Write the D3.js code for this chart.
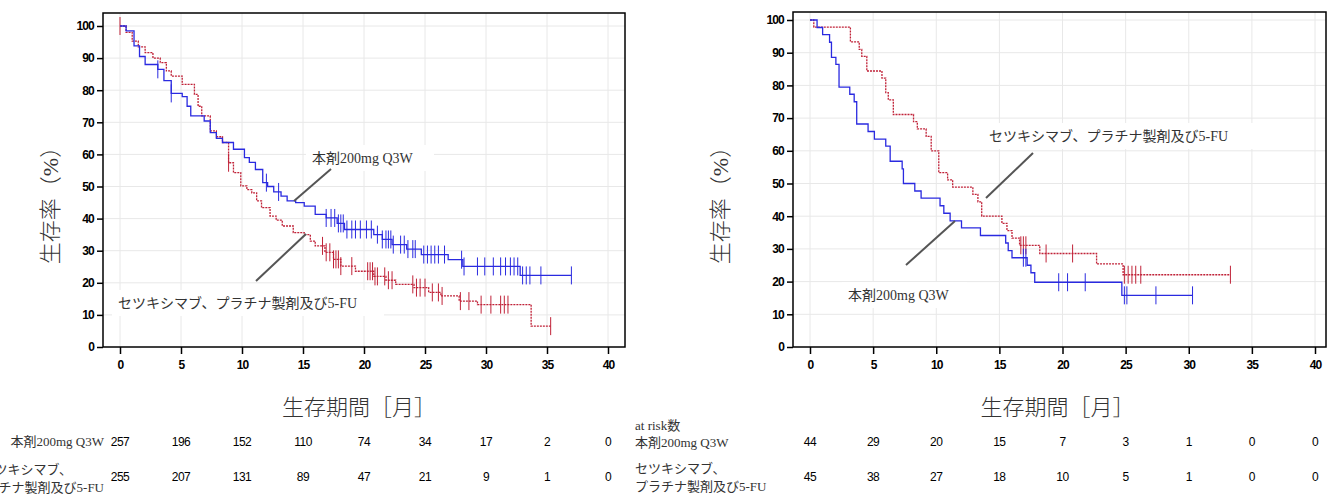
<!DOCTYPE html>
<html><head><meta charset="utf-8">
<script src="https://cdn.jsdelivr.net/npm/d3@7"></script>
<style>
body{margin:0;background:#fff}
.tick text{font-family:"Liberation Sans",Arial,sans-serif;font-size:12px;font-weight:bold;letter-spacing:-0.8px}
.lab{font-family:"Liberation Serif","Noto Sans CJK JP",serif;fill:#333}
.big{font-weight:300}
</style></head><body>
<svg id="c" width="1327" height="496"></svg>
<script>
const xTicks = [0, 5, 10, 15, 20, 25, 30, 35, 40]
const yTicks = [0, 10, 20, 30, 40, 50, 60, 70, 80, 90, 100]

// left panel: [month, survival %]
const leftBlue = [[0,100],[0.5,98.5],[1.15,93.8],[1.6,90.5],[2.06,88],[3.1,86.5],[3.6,83],[4.2,79],[5.1,78],[5.5,75],[5.8,72],[6.9,70.4],[7.4,66.8],[7.9,65],[8.4,63.7],[9.3,61.6],[10.2,59],[10.6,57.5],[11.1,55.3],[11.7,51.2],[12.1,50],[12.6,48.3],[13.2,47],[13.7,45.5],[14.4,45],[15.1,43.9],[16,41.3],[16.9,40.2],[17.8,38.5],[18.4,36.6],[20.8,35],[21.5,33.5],[22.3,31.9],[23.5,30.5],[24.7,28.8],[26.9,27.2],[28.1,25.1],[32.8,22.3]]
const leftBlueEnd = 37
const leftBlueCens = [3.1,4.2,12.0,13.0,16.9,17.3,17.6,17.9,18.1,18.3,18.6,19.0,19.3,19.7,20.2,20.6,21.1,21.5,21.8,22.0,22.2,22.4,23.0,23.3,23.6,24.0,24.2,24.9,25.2,25.5,25.8,26.1,26.6,28.0,28.2,29.3,29.9,30.6,31.2,31.6,32.0,32.3,32.6,33.0,33.3,33.6,34.5,37]
const leftRed = [[0,100],[0.5,98],[1,95.3],[1.5,93.5],[2.06,91.7],[2.7,90],[3.3,88.6],[3.8,86],[4.2,84.4],[5.1,81.8],[6.1,78.7],[6.4,75],[6.7,72],[7.4,67.3],[7.9,65.5],[8.4,63.7],[8.9,57.4],[9.3,54.3],[9.9,50.2],[10.4,49],[10.8,48],[11.2,45.5],[11.6,43.4],[12.3,40.8],[12.8,39.5],[13.3,37.7],[14.2,35.6],[15.1,35],[15.6,33],[16,31.5],[16.8,29.5],[17.5,27.3],[18.1,25.2],[19.3,23.6],[20.8,22],[21.8,20.8],[22.6,19.5],[24.1,18.5],[25.3,17],[26.3,15.9],[27.8,14.3],[29.3,13.2],[33.7,6.5]]
const leftRedEnd = 35.3
const leftRedCens = [0,8.9,16.6,16.9,17.2,17.5,17.7,17.9,18.1,19.0,20.3,20.5,20.7,20.9,21.1,21.7,22.0,22.3,24.0,24.3,24.6,25.0,25.6,26.1,26.4,27.9,28.6,29.6,30.4,31.2,31.5,31.8,35.3]

// right panel
const rightBlue = [[0,100],[0.56,97.7],[1.0,95.5],[1.55,93.2],[1.7,88.6],[2.05,86.4],[2.3,79.5],[3.15,77.3],[3.5,75],[3.7,68.2],[4.6,65.9],[5.1,63.6],[6.0,61.4],[6.35,56.8],[7.3,54.5],[7.4,50],[8.3,47.7],[8.8,45.5],[10.3,43.2],[10.6,40.9],[11.1,38.6],[12.0,36.4],[13.5,34.1],[15.5,31.8],[15.7,29.5],[16.0,27.3],[17.2,25],[17.5,22.7],[17.8,19.8],[24.7,15.8]]
const rightBlueEnd = 30.3
const rightBlueCens = [16.9,17.1,19.7,20.4,21.8,24.9,25.1,27.4,30.3]
const rightRed = [[0,100],[0.3,97.8],[3.2,93.3],[3.9,91],[4.1,88.9],[4.5,84.4],[5.7,82.2],[6.0,77.8],[6.2,75.6],[6.6,71.1],[8.2,68.9],[8.5,66.7],[9.2,64.4],[9.6,60],[10.2,53.3],[10.9,51.1],[11.3,48.9],[12.9,46.7],[13.3,44.4],[13.6,40],[15.2,37.8],[15.6,35.6],[16.0,33.3],[16.6,31.1],[18.2,28.6],[22.7,25.4],[24.8,22.1]]
const rightRedEnd = 33.3
const rightRedCens = [16.7,16.9,17.1,18.7,20.8,24.9,25.2,25.5,25.8,26.2,33.3]

const leftRiskBlue = [257,196,152,110,74,34,17,2,0]
const leftRiskRed = [255,207,131,89,47,21,9,1,0]
const rightRiskBlue = [44,29,20,15,7,3,1,0,0]
const rightRiskRed = [45,38,27,18,10,5,1,0,0]

const BLUE = "#2a2ae0", RED = "#c02238"
const svg = d3.select("#c")

function survAt(steps, t) {
  let v = 100
  steps.forEach(d => { if (d[0] <= t) v = d[1] })
  return v
}

function panel(o) {
  const x = d3.scaleLinear().domain([0, 40]).range([o.x0, o.x40])
  const y = d3.scaleLinear().domain([0, 100]).range([o.y0, o.y100])
  const g = svg.append("g")

  // grid
  g.selectAll(".gx").data(xTicks).enter().append("line")
    .attr("x1", d => x(d)).attr("x2", d => x(d))
    .attr("y1", o.top).attr("y2", o.y0).attr("stroke", "#e8e8e8")
  g.selectAll(".gy").data(yTicks.slice(1)).enter().append("line")
    .attr("x1", o.left).attr("x2", o.right)
    .attr("y1", d => y(d)).attr("y2", d => y(d)).attr("stroke", "#e8e8e8")

  // frame
  g.append("rect").attr("x", o.left).attr("y", o.top)
    .attr("width", o.right - o.left).attr("height", o.y0 - o.top)
    .attr("fill", "none").attr("stroke", "#000").attr("stroke-width", 1.5)

  // label backgrounds
  o.labels.forEach(l => {
    g.append("rect").attr("x", l.x - 6).attr("y", l.y - 18)
      .attr("width", l.w).attr("height", 26).attr("fill", "#fff")
  })

  function curve(steps, end, cens, color, dash) {
    const pts = steps.concat([[end, steps[steps.length - 1][1]]])
    g.append("path").datum(pts)
      .attr("d", d3.line().x(d => x(d[0])).y(d => y(d[1])).curve(d3.curveStepAfter))
      .attr("fill", "none").attr("stroke", color).attr("stroke-width", 1.3)
      .attr("stroke-dasharray", dash)
    g.selectAll(null).data(cens).enter().append("line")
      .attr("x1", d => x(d)).attr("x2", d => x(d))
      .attr("y1", d => y(survAt(steps, d)) - 9).attr("y2", d => y(survAt(steps, d)) + 9)
      .attr("stroke", color).attr("stroke-width", 1)
  }
  curve(o.red, o.redEnd, o.redCens, RED, "2,1")
  curve(o.blue, o.blueEnd, o.blueCens, BLUE, null)

  // axes
  g.append("g").attr("transform", `translate(${o.left},0)`)
    .call(d3.axisLeft(y).tickValues(yTicks).tickSize(6).tickSizeOuter(0))
    .call(a => a.select(".domain").remove())
  g.append("g").attr("transform", `translate(0,${o.y0})`)
    .call(d3.axisBottom(x).tickValues(xTicks).tickSize(7).tickSizeOuter(0).tickPadding(6))
    .call(a => a.select(".domain").remove())
  g.selectAll(".tick line").attr("stroke", "#000").attr("stroke-width", 1.5)
  g.selectAll(".tick text").attr("fill", "#000")

  // annotations
  o.labels.forEach(l => {
    g.append("text").attr("class", "lab").attr("x", l.x).attr("y", l.y)
      .attr("font-size", 14).text(l.t)
    g.append("line").attr("x1", l.lx1).attr("y1", l.ly1).attr("x2", l.lx2).attr("y2", l.ly2)
      .attr("stroke", "#555").attr("stroke-width", 2)
  })

  // axis titles
  g.append("text").attr("class", "lab big").attr("font-size", 22)
    .attr("transform", `translate(${o.ylabX},200) rotate(-90)`)
    .attr("text-anchor", "middle").text("生存率（%）")
  g.append("text").attr("class", "lab big").attr("font-size", 22)
    .attr("x", (o.x0 + o.x40) / 2 - 5).attr("y", 415)
    .attr("text-anchor", "middle").text("生存期間［月］")

  // at risk table
  ;[[o.riskBlue, 446], [o.riskRed, 481]].forEach(r => {
    g.selectAll(null).data(r[0]).enter().append("text")
      .attr("x", (d, i) => x(xTicks[i])).attr("y", r[1])
      .attr("text-anchor", "middle")
      .attr("font-family", "Liberation Sans Narrow, Liberation Sans, sans-serif")
      .attr("font-size", 12).attr("letter-spacing", -0.5).text(d => d)
  })
  o.rowLabels.forEach(l => {
    g.append("text").attr("class", "lab").attr("x", l.x).attr("y", l.y)
      .attr("font-size", 13).attr("text-anchor", l.anchor || "start").text(l.t)
  })
}

panel({
  x0: 120, x40: 608, y0: 347, y100: 26, left: 103, right: 625, top: 13, ylabX: 58,
  blue: leftBlue, blueEnd: leftBlueEnd, blueCens: leftBlueCens,
  red: leftRed, redEnd: leftRedEnd, redCens: leftRedCens,
  riskBlue: leftRiskBlue, riskRed: leftRiskRed,
  labels: [
    { t: "本剤200mg Q3W", x: 312, y: 163, w: 128, lx1: 294, ly1: 201, lx2: 331, ly2: 169 },
    { t: "セツキシマブ、プラチナ製剤及び5-FU", x: 118, y: 308, w: 272, lx1: 256, ly1: 281, lx2: 306, ly2: 234 }
  ],
  rowLabels: [
    { t: "本剤200mg Q3W", x: 104, y: 446, anchor: "end" },
    { t: "セツキシマブ、", x: 72, y: 474, anchor: "end" },
    { t: "プラチナ製剤及び5-FU", x: 104, y: 492, anchor: "end" }
  ]
})

panel({
  x0: 810, x40: 1315, y0: 347, y100: 20, left: 793, right: 1326, top: 12, ylabX: 728,
  blue: rightBlue, blueEnd: rightBlueEnd, blueCens: rightBlueCens,
  red: rightRed, redEnd: rightRedEnd, redCens: rightRedCens,
  riskBlue: rightRiskBlue, riskRed: rightRiskRed,
  labels: [
    { t: "セツキシマブ、プラチナ製剤及び5-FU", x: 989, y: 141, w: 300, lx1: 986, ly1: 198, lx2: 1033, ly2: 153 },
    { t: "本剤200mg Q3W", x: 848, y: 300, w: 125, lx1: 906, ly1: 265, lx2: 955, ly2: 221 }
  ],
  rowLabels: [
    { t: "at risk数", x: 635, y: 430 },
    { t: "本剤200mg Q3W", x: 635, y: 447 },
    { t: "セツキシマブ、", x: 635, y: 473 },
    { t: "プラチナ製剤及び5-FU", x: 635, y: 491 }
  ]
})
</script>
</body></html>
